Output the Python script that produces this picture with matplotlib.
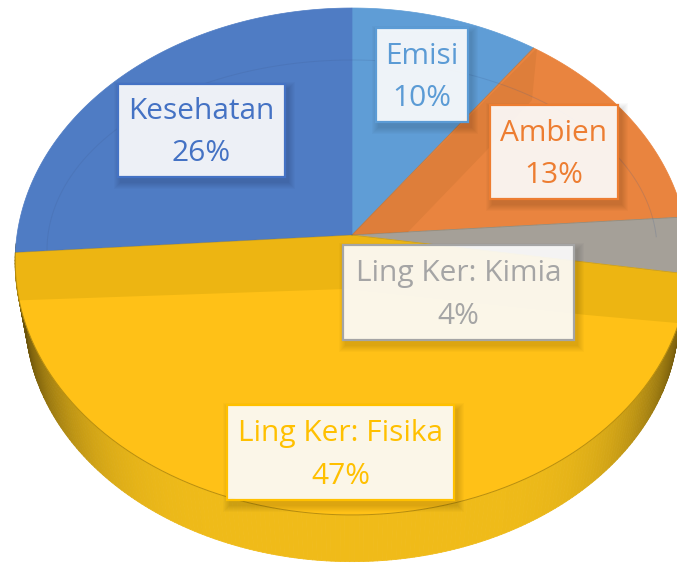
import numpy as np
import matplotlib
matplotlib.use("Agg")
from matplotlib import pyplot as plt
from matplotlib.patches import Polygon, Rectangle
from matplotlib.collections import PolyCollection

categories = ["Emisi", "Ambien", "Ling Ker: Kimia", "Ling Ker: Fisika", "Kesehatan"]
shares = [10.0, 13.85, 3.6, 46.45, 26.1]
percent_labels = ["10%", "13%", "4%", "47%", "26%"]
colors = ["#5F9DD6", "#E9843F", "#A5A098", "#FFC117", "#4F7CC4"]
text_colors = ["#5B9BD5", "#ED7D31", "#A5A5A5", "#FFC000", "#4472C4"]
# left, top, right, bottom of each label box in pixels
boxes = [(376, 28, 468, 122), (490, 105, 618, 199), (343, 245, 574, 340),
         (227, 405, 454, 500), (118, 84, 285, 177)]

CX, CY = 352, 235
RX, RY, K = 335, 250.7, 0.1045


def project(theta, scale=1.0, dy=0.0):
    # theta in degrees, clockwise from the top of the pie
    t = np.radians(theta)
    x, y = np.sin(t) * scale, np.cos(t) * scale
    w = 1 + K * y
    return CX + RX * x / w, CY + dy - RY * y / w


def wedge_points(a, b):
    th = np.linspace(a, b, 200)
    px, py = project(th)
    return np.column_stack([np.r_[CX, px], np.r_[CY, py]])


def shade(x):
    # side wall gets darker towards the silhouette
    d = np.clip(abs(x - CX) / 330.0, 0, 1)
    f = 1.0 - 0.6 * d ** 6
    return (0.94 * f, 0.735 * f, 0.10 * f)


fig = plt.figure(figsize=(6.77, 5.65), dpi=100)
ax = fig.add_axes([0, 0, 1, 1])
ax.set_xlim(0, 677)
ax.set_ylim(565, 0)
ax.axis("off")
plt.rcParams["font.family"] = ["Open Sans", "DejaVu Sans"]

# side wall
SIDE_SCALE, SIDE_DY = 0.97, 56
th = np.linspace(92, 268, 240)
tx, ty = project(th)
bx, by = project(th, SIDE_SCALE, SIDE_DY)
quads = []
fc = []
for i in range(len(th) - 1):
    quads.append([(tx[i], ty[i]), (tx[i + 1], ty[i + 1]), (bx[i + 1], by[i + 1]), (bx[i], by[i])])
    fc.append(shade((bx[i] + bx[i + 1]) / 2))
ax.add_collection(PolyCollection(quads, facecolors=fc, edgecolors=fc, linewidths=0.6, zorder=1))

# top face
edges = np.r_[0, np.cumsum(shares)] * 3.6
faces = []
for i in range(len(shares)):
    p = Polygon(wedge_points(edges[i], edges[i + 1]), closed=True, facecolor=colors[i],
                edgecolor=colors[i], linewidth=0.5, zorder=2)
    ax.add_patch(p)
    faces.append(p)

# lighting on the top face
band = Polygon([(0, 301), (345, 289), (587, 315), (677, 323), (677, 200), (0, 200)],
               closed=True, facecolor="#EDB512", edgecolor="none", zorder=3)
ax.add_patch(band)
band.set_clip_path(faces[3])
dark = Polygon([(537, 48), (532, 100), (487, 150), (408, 232), (352, 235)], closed=True,
               facecolor="#DE7E3A", edgecolor="none", zorder=3)
ax.add_patch(dark)
dark.set_clip_path(faces[1])

# faint ring
ring = np.radians(np.linspace(-90, 86, 200))
ax.plot(352 + 305 * np.sin(ring), 250 - 190 * np.cos(ring), color="#3F5C90", alpha=0.2, lw=0.7, zorder=3)

# edge of the top face over the wall
ex, ey = project(np.linspace(98, 266, 200))
ax.plot(ex, ey, color="#8A6D0A", lw=0.7, alpha=0.6, zorder=4)
# thin separators
for i in [1, 2, 3, 4]:
    ex, ey = project(edges[i])
    ax.plot([CX, ex], [CY, ey], color="#6E6A50", lw=0.6, alpha=0.35, zorder=4)

# labels
for i in range(len(categories)):
    l, t, r, b = boxes[i]
    for grow in range(7, 0, -1):
        ax.add_patch(Rectangle((l + 3 - grow, t + 5 - grow), r - l + 2 * grow, b - t + 2 * grow,
                               facecolor="black", edgecolor="none", alpha=0.018, zorder=5))
    ax.add_patch(Rectangle((l, t), r - l, b - t, facecolor=(1, 1, 1, 0.91),
                           edgecolor=text_colors[i], linewidth=1.6, zorder=6))
    mid = (l + r) / 2
    ax.text(mid, t + (b - t) * 0.30, categories[i], color=text_colors[i], fontsize=21.5,
            ha="center", va="center", zorder=7)
    ax.text(mid, t + (b - t) * 0.75, percent_labels[i], color=text_colors[i], fontsize=21.5,
            ha="center", va="center", zorder=7)

fig.savefig("out.png", dpi=100)
